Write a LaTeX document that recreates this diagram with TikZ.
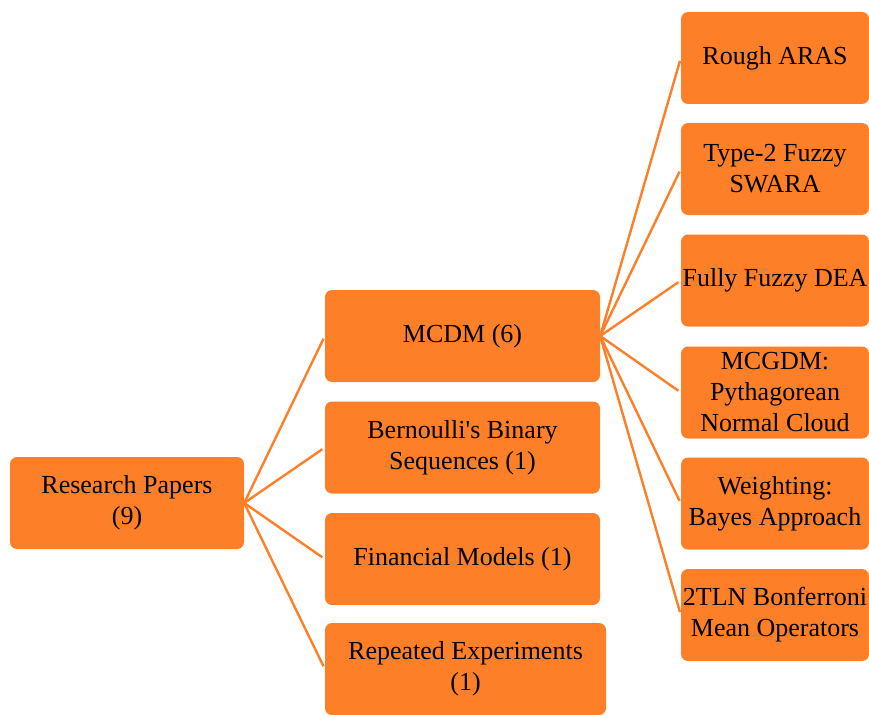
\documentclass[tikz,border=0pt]{standalone}
\usepackage{fontspec}
\setmainfont{Liberation Serif}
\definecolor{boxorange}{RGB}{253,127,39}

\begin{document}
\begin{tikzpicture}[x=1pt,y=-1pt,
  box/.style={fill=boxorange, rounded corners=7pt, align=center, inner sep=0pt,
    minimum height=92pt, font=\fontsize{26}{31}\selectfont},
  link/.style={draw=boxorange, line width=2.4pt, shorten >=3pt}]
\useasboundingbox (0,0) rectangle (869,714);

% 根节点
\node[box, minimum width=234pt] (papers) at (127,503) {Research Papers\\(9)};

% 第二层:四类方法
\node[box, minimum width=275pt] (mcdm) at (462.5,336) {MCDM (6)};
\node[box, minimum width=275pt] (bernoulli) at (462.5,447.5) {Bernoulli\textquotesingle s Binary\\Sequences (1)};
\node[box, minimum width=275pt] (financial) at (462.5,559) {Financial Models (1)};
\node[box, minimum width=281pt] (repeated) at (465.5,669) {Repeated Experiments\\(1)};

% 第三层:MCDM 的六篇
\node[box, minimum width=188pt] (aras) at (775,58) {Rough ARAS};
\node[box, minimum width=188pt] (swara) at (775,169) {Type-2 Fuzzy\\SWARA};
\node[box, minimum width=188pt] (dea) at (775,280.5) {Fully Fuzzy DEA};
\node[box, minimum width=188pt] (mcgdm) at (775,392.5) {MCGDM:\\Pythagorean\\Normal Cloud};
\node[box, minimum width=188pt] (bayes) at (775,503.5) {Weighting:\\Bayes Approach};
\node[box, minimum width=188pt] (bonferroni) at (775,615) {2TLN Bonferroni\\Mean Operators};

% 根节点到第二层的连线
\draw[link] (papers.east) -- (mcdm.west);
\draw[link] (papers.east) -- (bernoulli.west);
\draw[link] (papers.east) -- (financial.west);
\draw[link] (papers.east) -- (repeated.west);

% MCDM 到第三层的连线
\draw[link] (mcdm.east) -- (aras.west);
\draw[link] (mcdm.east) -- (swara.west);
\draw[link] (mcdm.east) -- (dea.west);
\draw[link] (mcdm.east) -- (mcgdm.west);
\draw[link] (mcdm.east) -- (bayes.west);
\draw[link] (mcdm.east) -- (bonferroni.west);

\end{tikzpicture}
\end{document}
